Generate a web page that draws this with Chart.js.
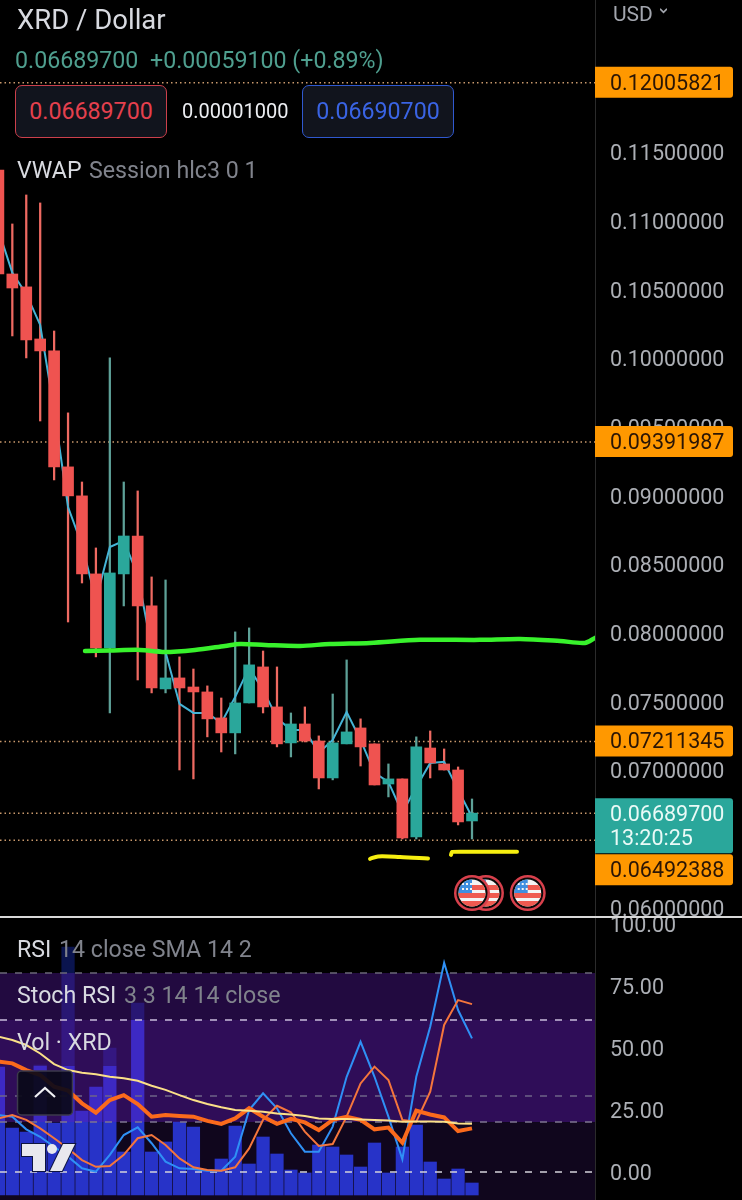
<!DOCTYPE html>
<html>
<head>
<meta charset="utf-8">
<title>XRD / Dollar</title>
<script src="https://cdn.jsdelivr.net/npm/chart.js@4"></script>
<style>
  html, body { margin: 0; background: #000; }
  body { width: 742px; height: 1200px; position: relative; overflow: hidden; font-family: Roboto, sans-serif; }
  canvas { position: absolute; left: 0; }
  #priceChart { top: 0; }
  #oscChart { top: 917px; }
  .t { position: absolute; white-space: pre; line-height: 30px; height: 30px; font-size: 23.2px; }
  .grey { color: #80838c; }
  .lite { color: #d8dae0; }
  .box { position: absolute; top: 85px; width: 150px; height: 51px; border-radius: 7px; background: #11141d; text-align: center; line-height: 51px; font-size: 23.2px; }
  #sep { position: absolute; left: 0; top: 916px; width: 742px; height: 2px; background: #d8d8d8; }
  #chev { position: absolute; left: 660px; top: 7px; width: 7px; height: 7px; }
</style>
</head>
<body>
<canvas id="priceChart" width="742" height="917"></canvas>
<canvas id="oscChart" width="742" height="283"></canvas>
<div id="sep"></div>

<div class="t lite" style="left:17px;top:5px;font-size:27.5px;">XRD / Dollar</div>
<div class="t" style="left:15px;top:45px;color:#4f9f8f;">0.06689700</div>
<div class="t" style="left:150px;top:45px;color:#4f9f8f;">+0.00059100 (+0.89%)</div>
<div class="box" style="left:15px;border:1.5px solid #cc404c;color:#e5404e;">0.06689700</div>
<div class="t" style="left:182px;top:96px;font-size:20px;color:#eceef2;">0.00001000</div>
<div class="box" style="left:302px;border:1.5px solid #3059d0;color:#3a64e4;">0.06690700</div>
<div class="t lite" style="left:17px;top:155px;">VWAP</div>
<div class="t grey" style="left:89px;top:155px;">Session hlc3 0 1</div>
<div class="t" style="left:613px;top:-1px;font-size:21px;color:#a2a5ad;">USD</div>
<svg id="chev" viewBox="0 0 6 6"><path d="M0 1.5 L3 4.5 L6 1.5" fill="none" stroke="#a2a5ad" stroke-width="1.5"/></svg>

<div class="t lite" style="left:17px;top:934px;">RSI</div>
<div class="t grey" style="left:59px;top:934px;">14 close SMA 14 2</div>
<div class="t lite" style="left:17px;top:980px;">Stoch RSI</div>
<div class="t grey" style="left:124px;top:980px;">3 3 14 14 close</div>
<div class="t lite" style="left:17px;top:1027px;">Vol · XRD</div>

<script>
// candles
var opens = [0.11371, 0.10614, 0.10520, 0.10141, 0.10054, 0.09210, 0.08999, 0.08431, 0.07892, 0.08431, 0.08707, 0.08198,
  0.07594, 0.07674, 0.07608, 0.07572, 0.07383, 0.07274, 0.07492, 0.07754, 0.07463, 0.07201, 0.07339, 0.07215,
  0.06946, 0.07194, 0.07310, 0.07194, 0.06902, 0.06939, 0.06517, 0.07164, 0.07048, 0.07004, 0.06633];
var highs = [0.11371, 0.10978, 0.11189, 0.11131, 0.10199, 0.09603, 0.09100, 0.08620, 0.10003, 0.09100, 0.09035, 0.08409,
  0.08387, 0.07827, 0.07739, 0.07616, 0.07528, 0.08009, 0.08038, 0.07870, 0.07754, 0.07419, 0.07463, 0.07252,
  0.07557, 0.07805, 0.07376, 0.07194, 0.07048, 0.06939, 0.07245, 0.07288, 0.07157, 0.07026, 0.06793];
var lows = [0.10614, 0.10163, 0.10003, 0.09544, 0.09115, 0.08081, 0.08365, 0.07827, 0.07419, 0.08198, 0.07659, 0.07565,
  0.07565, 0.07004, 0.06939, 0.07245, 0.07135, 0.07121, 0.07492, 0.07419, 0.07172, 0.07099, 0.07208, 0.06866,
  0.06932, 0.07194, 0.07033, 0.06895, 0.06808, 0.06502, 0.06502, 0.06946, 0.07004, 0.06604, 0.06502];
var closes = [0.10614, 0.10512, 0.10134, 0.10054, 0.09210, 0.08999, 0.08431, 0.07892, 0.08438, 0.08707, 0.08198, 0.07601,
  0.07674, 0.07601, 0.07572, 0.07376, 0.07274, 0.07492, 0.07769, 0.07463, 0.07194, 0.07339, 0.07215, 0.06946,
  0.07201, 0.07281, 0.07172, 0.06895, 0.06939, 0.06509, 0.07172, 0.07055, 0.07004, 0.06626, 0.06690];
var vwap = [0.10934, 0.10622, 0.10469, 0.10243, 0.09624, 0.08918, 0.08642, 0.08242, 0.08627, 0.08671, 0.08424, 0.07892,
  0.07863, 0.07485, 0.07419, 0.07419, 0.07346, 0.07536, 0.07747, 0.07587, 0.07383, 0.07295, 0.07295, 0.07128,
  0.07223, 0.07426, 0.07223, 0.06983, 0.06917, 0.06691, 0.06881, 0.07055, 0.07063, 0.06859, 0.06662];

// price axis and horizontal levels
var priceTicks = [0.06, 0.065, 0.07, 0.075, 0.08, 0.085, 0.09, 0.095, 0.10, 0.105, 0.11, 0.115, 0.12];
var levels = [0.12005821, 0.09391987, 0.07211345, 0.06492388];
var lastPrice = 0.066897;
var lastCountdown = '13:20:25';

// hand drawn marks: bar position, price
var greenBars = [6.22, 8.01, 10.17, 11.96, 14.11, 16.27, 17.34, 19.14, 21.65, 23.8, 26.68, 30.27, 34.57, 37.45, 40.32, 42.1, 42.83];
var greenPrices = [0.07870, 0.07874, 0.07878, 0.07863, 0.07878, 0.07907, 0.07921, 0.07914, 0.07907, 0.07921, 0.07929, 0.07951, 0.07951, 0.07958, 0.07943, 0.07929, 0.07965];
var yellowBarsA = [26.68, 27.25, 28.83, 30.84];
var yellowPricesA = [0.06357, 0.06375, 0.06371, 0.06360];
var yellowBarsB = [32.49, 32.56, 34.57, 37.23];
var yellowPricesB = [0.06386, 0.06408, 0.06408, 0.06408];
var flagBars = [35, 34, 38];

// lower pane
var volumes = [128, 67, 63, 130, 72, 248, 84, 108, 147, 43, 192, 43, 53, 73, 68, 25, 36, 69, 31, 58, 41, 25, 22, 50, 48, 40, 28, 52, 22, 48, 70, 33, 16, 26, 12];
var rsi = [44.5, 43.8, 41.1, 39.1, 34.4, 32.8, 27.7, 23.9, 29.0, 31.0, 27.4, 22.3, 23.0, 22.6, 22.3, 20.6, 19.4, 21.6, 25.7,
  22.3, 19.4, 21.4, 20.0, 16.9, 21.0, 22.3, 21.0, 17.2, 17.9, 11.8, 24.7, 23.2, 22.0, 16.5, 17.6];
var rsiSma = [54.6, 53.2, 51.2, 47.8, 43.5, 41.1, 40.0, 39.4, 38.4, 37.8, 36.8, 34.8, 33.1, 31.0, 29.0, 27.4, 26.1, 25.0, 24.7,
  24.3, 23.6, 23.2, 22.6, 21.6, 21.4, 21.4, 21.2, 21.0, 20.8, 20.3, 20.4, 20.4, 20.3, 19.6, 19.5];
var stochK = [23.0, 22.3, 17.2, 14.2, 10.2, 6.2, 1.5, 0.1, 6.9, 14.9, 18.0, 11.6, 4.2, 1.5, 1.2, 0.5, 0.5, 6.2, 25.0,
  31.7, 25.7, 15.6, 8.2, 8.2, 18.3, 38.4, 52.5, 38.4, 22.3, 5.1, 38.4, 58.6, 84.4, 65.3, 53.9];
var stochD = [21.6, 23.0, 21.0, 17.6, 13.6, 9.5, 4.8, 2.1, 2.4, 6.9, 13.6, 14.9, 10.9, 5.5, 1.9, 0.8, 0.5, 1.9, 9.5,
  21.0, 26.7, 24.1, 16.3, 10.5, 11.3, 22.3, 35.7, 42.5, 37.1, 21.0, 20.3, 32.4, 59.3, 69.3, 67.7];
var oscTicks = [0, 25, 50, 75, 100];
var bandLevels = [80.2, 61.3, 30.6, 20.2, 0];

var xMin = 0.115, xMax = 42.83;
var teal = '#2aa79b', red = '#ef5350';

function xy(xs, ys) {
  return xs.map(function (x, i) { return { x: x, y: ys[i] }; });
}
function series(ys) {
  return ys.map(function (y, i) { return { x: i, y: y }; });
}
function hline(v) {
  return [{ x: xMin, y: v }, { x: xMax, y: v }];
}
function isUp(i) { return closes[i] >= opens[i]; }

// fixed axis strip, no extra inset from the tick labels
var axisWidth = function (scale) {
  scale.width = 147;
  scale.paddingTop = 0;
  scale.paddingBottom = 0;
  scale.paddingLeft = 0;
  scale.paddingRight = 0;
};
var xAxis = { type: 'linear', min: xMin, max: xMax, display: false, offset: false, grid: { offset: false } };

var priceLabels = {
  id: 'priceLabels',
  afterDraw: function (chart) {
    var ctx = chart.ctx, y = chart.scales.y, x = chart.scales.x;
    var left = chart.chartArea.right;
    ctx.save();
    ctx.textBaseline = 'middle';
    ctx.font = '21.5px Roboto';

    // flags
    flagBars.forEach(function (b) { drawFlag(ctx, x.getPixelForValue(b), 893); });

    // orange level labels, current price box sits on top of the last one
    var lastY = y.getPixelForValue(lastPrice);
    var tealBottom = lastY + 40;
    levels.forEach(function (lv) {
      var top = y.getPixelForValue(lv) - 16;
      if (top < tealBottom && top + 31 > lastY - 15) top = tealBottom + 1;
      ctx.fillStyle = '#ff9800';
      ctx.beginPath();
      ctx.roundRect(left, top, 138, 31, [0, 3, 3, 0]);
      ctx.fill();
      ctx.fillStyle = '#2a1505';
      ctx.fillText(lv.toFixed(8), 610, top + 17.5);
    });
    ctx.fillStyle = teal;
    ctx.beginPath();
    ctx.roundRect(left, lastY - 15, 138, 55, [0, 3, 3, 0]);
    ctx.fill();
    ctx.fillStyle = '#eafaf7';
    ctx.fillText(lastPrice.toFixed(8), 610, lastY + 2);
    ctx.fillText(lastCountdown, 610, lastY + 26.5);
    ctx.restore();
  }
};

function drawFlag(ctx, cx, cy) {
  ctx.save();
  ctx.beginPath(); ctx.arc(cx, cy, 18, 0, Math.PI * 2); ctx.fillStyle = '#d8404c'; ctx.fill();
  ctx.beginPath(); ctx.arc(cx, cy, 15.5, 0, Math.PI * 2); ctx.fillStyle = '#0a0a0a'; ctx.fill();
  ctx.beginPath(); ctx.arc(cx, cy, 13.5, 0, Math.PI * 2); ctx.clip();
  ctx.fillStyle = '#f4f4f4'; ctx.fillRect(cx - 14, cy - 14, 28, 28);
  ctx.fillStyle = '#ef5a50';
  ctx.fillRect(cx - 14, cy - 8, 28, 5);
  ctx.fillRect(cx - 14, cy + 0, 28, 5);
  ctx.fillRect(cx - 14, cy + 8, 28, 6);
  ctx.fillStyle = '#3f8fe0'; ctx.fillRect(cx - 14, cy - 14, 14, 14);
  ctx.fillStyle = '#f4f4f4';
  [-10, -5].forEach(function (dy) {
    [-10, -6, -2].forEach(function (dx) { ctx.fillRect(dx + cx, dy + cy, 2, 2); });
  });
  ctx.restore();
}

new Chart(document.getElementById('priceChart').getContext('2d'), {
  type: 'bar',
  data: {
    datasets: [
      {
        type: 'bar', order: 5,
        data: lows.map(function (l, i) { return { x: i, y: [l, highs[i]] }; }),
        barThickness: 1.6, grouped: false,
        backgroundColor: lows.map(function (l, i) { return isUp(i) ? '#5ea198' : '#ee6a62'; })
      },
      {
        type: 'line', order: 4, data: series(vwap), borderColor: '#45b4d6', borderWidth: 2, pointRadius: 0
      },
      {
        type: 'bar', order: 3,
        data: opens.map(function (o, i) { return { x: i, y: [o, closes[i]] }; }),
        barThickness: 11, grouped: false,
        backgroundColor: opens.map(function (o, i) { return isUp(i) ? teal : red; })
      },
      { type: 'line', order: 2, data: xy(greenBars, greenPrices), borderColor: '#38f22c', borderWidth: 4.5, pointRadius: 0, tension: 0.3, borderCapStyle: 'round' },
      { type: 'line', order: 1, data: xy(yellowBarsA, yellowPricesA), borderColor: '#f6ee10', borderWidth: 4, pointRadius: 0, tension: 0.3, borderCapStyle: 'round' },
      { type: 'line', order: 1, data: xy(yellowBarsB, yellowPricesB), borderColor: '#f6ee10', borderWidth: 4, pointRadius: 0, tension: 0.1, borderCapStyle: 'round' }
    ].concat(levels.concat([lastPrice]).map(function (lv) {
      return { type: 'line', order: 6, data: hline(lv), borderColor: '#c9996c', borderWidth: 1.5, borderDash: [1.5, 3], pointRadius: 0 };
    }))
  },
  options: {
    responsive: false,
    animation: false,
    devicePixelRatio: 1,
    layout: { autoPadding: false, padding: 0 },
    plugins: { legend: { display: false }, tooltip: { enabled: false } },
    scales: {
      x: xAxis,
      y: {
        position: 'right', min: 0.05934, max: 0.12608,
        afterFit: axisWidth,
        afterBuildTicks: function (s) { s.ticks = priceTicks.map(function (v) { return { value: v }; }); },
        grid: { display: false, drawTicks: false },
        border: { display: true, color: '#2b2b2b' },
        ticks: {
          padding: 15, labelOffset: 2.5, color: '#acafb5', font: { family: 'Roboto', size: 21.5 }, autoSkip: false, maxRotation: 0,
          callback: function (v) { return v.toFixed(8); }
        }
      }
    }
  },
  plugins: [priceLabels]
});

// index of the last band fill, legend backdrops go right after it
var bandFills = [
  { from: bandLevels[0], to: bandLevels[1], color: 'rgba(100,28,188,0.34)' },
  { from: bandLevels[1], to: bandLevels[3], color: 'rgba(100,28,188,0.47)' },
  { from: bandLevels[3], to: -11.29, color: 'rgba(100,40,180,0.16)' }
];

var oscDecor = {
  id: 'oscDecor',
  afterDatasetDraw: function (chart, args) {
    if (args.index !== bandFills.length) return;
    var ctx = chart.ctx;
    ctx.save();
    ctx.fillStyle = 'rgba(0,0,0,0.62)';
    ctx.fillRect(7, 935 - 917, 263, 38);
    ctx.fillRect(7, 973 - 917, 293, 47);
    ctx.fillRect(7, 1020 - 917, 123, 46);
    ctx.restore();
  },
  afterDraw: function (chart) {
    var ctx = chart.ctx, top = 917;
    ctx.save();
    // collapse button
    ctx.fillStyle = 'rgba(10,9,24,0.92)';
    ctx.strokeStyle = '#3c3a4c';
    ctx.lineWidth = 1.5;
    ctx.beginPath();
    ctx.roundRect(17.5, 1071 - top, 55, 44, 4);
    ctx.fill();
    ctx.stroke();
    ctx.strokeStyle = '#f0f0f4';
    ctx.lineWidth = 2.2;
    ctx.beginPath();
    ctx.moveTo(35, 1097 - top);
    ctx.lineTo(45, 1088 - top);
    ctx.lineTo(55, 1097 - top);
    ctx.stroke();
    // tradingview mark
    ctx.fillStyle = '#e8e8ee';
    ctx.strokeStyle = '#0e1440';
    ctx.lineWidth = 2;
    ctx.beginPath();
    ctx.moveTo(22, 1144 - top); ctx.lineTo(45, 1144 - top); ctx.lineTo(45, 1171 - top);
    ctx.lineTo(33, 1171 - top); ctx.lineTo(33, 1156 - top); ctx.lineTo(22, 1156 - top);
    ctx.closePath();
    ctx.stroke(); ctx.fill();
    ctx.beginPath();
    ctx.moveTo(63, 1144 - top); ctx.lineTo(75, 1144 - top); ctx.lineTo(62, 1171 - top); ctx.lineTo(50, 1171 - top);
    ctx.closePath();
    ctx.stroke(); ctx.fill();
    ctx.beginPath();
    ctx.arc(52, 1149 - top, 5, 0, Math.PI * 2);
    ctx.fill();
    ctx.restore();
  }
};

var bandDatasets = bandFills.map(function (b) {
  return {
    type: 'line', order: 9, yAxisID: 'y', data: hline(b.from), borderWidth: 0, pointRadius: 0,
    fill: { value: b.to }, backgroundColor: b.color
  };
});
var dashColors = ['#6b6878', '#c9bcdc', '#6f6488', '#7d7590', '#d4d2da'];
var dashDatasets = bandLevels.map(function (v, i) {
  return { type: 'line', order: 7, yAxisID: 'y', data: hline(v), borderColor: dashColors[i], borderWidth: 1.5, borderDash: [7, 8], pointRadius: 0 };
});

new Chart(document.getElementById('oscChart').getContext('2d'), {
  type: 'bar',
  data: {
    datasets: [
      { type: 'bar', order: 10, yAxisID: 'yVol', data: series(volumes), barThickness: 12.6, grouped: false, backgroundColor: '#1c36cc' }
    ].concat(bandDatasets, dashDatasets, [
      { type: 'line', order: 4, yAxisID: 'y', data: series(stochK), borderColor: '#2f90f5', borderWidth: 2, pointRadius: 0 },
      { type: 'line', order: 3, yAxisID: 'y', data: series(stochD), borderColor: '#f5763c', borderWidth: 2, pointRadius: 0 },
      { type: 'line', order: 2, yAxisID: 'y', data: series(rsi), borderColor: '#fb6a1c', borderWidth: 4, pointRadius: 0 },
      { type: 'line', order: 1, yAxisID: 'y', data: series(rsiSma), borderColor: '#fbe088', borderWidth: 2, pointRadius: 0 }
    ])
  },
  options: {
    responsive: false,
    animation: false,
    devicePixelRatio: 1,
    layout: { autoPadding: false, padding: 0 },
    plugins: { legend: { display: false }, tooltip: { enabled: false } },
    scales: {
      x: xAxis,
      yVol: { type: 'linear', position: 'left', display: false, min: -5, max: 278 },
      y: {
        position: 'right', min: -11.29, max: 102.82,
        afterFit: axisWidth,
        afterBuildTicks: function (s) { s.ticks = oscTicks.map(function (v) { return { value: v }; }); },
        grid: { display: false, drawTicks: false },
        border: { display: true, color: '#2b2b2b' },
        ticks: {
          padding: 15, labelOffset: 3, color: '#acafb5', font: { family: 'Roboto', size: 21.5 }, autoSkip: false, maxRotation: 0,
          callback: function (v) { return v.toFixed(2); }
        }
      }
    }
  },
  plugins: [oscDecor]
});
</script>
</body>
</html>
